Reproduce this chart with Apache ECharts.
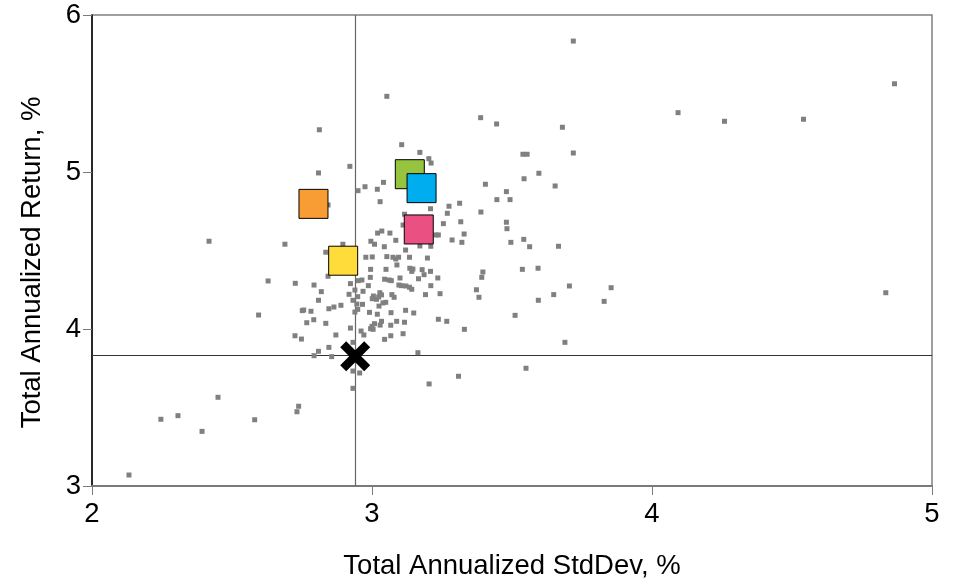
<!DOCTYPE html>
<html>
<head>
<meta charset="utf-8">
<title>Risk / Return</title>
<script src="https://cdn.jsdelivr.net/npm/echarts@6/dist/echarts.min.js"></script>
<style>
  html, body { margin: 0; padding: 0; background: #fff; }
  #chart { width: 959px; height: 581px; }
</style>
</head>
<body>
<div id="chart"></div>
<script>
// Axis ranges and tick labels
const xTicks = [2, 3, 4, 5];
const yTicks = [3, 4, 5, 6];
const xTitle = 'Total Annualized StdDev, %';
const yTitle = 'Total Annualized Return, %';

// Peer universe: [std dev %, return %]
const universe = [
  [3.053,5.482],[2.812,5.269],[2.809,4.994],[2.921,5.036],[3.106,5.174],[2.950,4.881],[2.975,4.906],
  [3.019,4.890],[3.041,4.934],[3.029,4.811],[2.843,4.790],[2.418,4.559],[2.689,4.540],[2.896,4.540],
  [3.719,5.834],[3.388,5.346],[3.445,5.306],[3.680,5.285],[3.171,5.125],[3.203,5.085],[3.211,5.057],
  [3.539,5.113],[3.554,5.113],[3.719,5.121],[3.596,4.992],[3.543,4.957],[3.405,4.922],[3.654,4.911],
  [3.480,4.875],[3.446,4.824],[3.493,4.824],[3.313,4.801],[3.275,4.782],[3.209,4.766],[3.269,4.737],
  [3.389,4.745],[3.317,4.683],[3.255,4.671],[3.480,4.680],[3.482,4.639],[3.329,4.605],[3.228,4.599],
  [3.237,4.599],[3.286,4.567],[3.321,4.552],[3.496,4.552],[3.542,4.571],[3.563,4.524],[3.666,4.527],
  [3.116,4.731],[3.111,4.662],[3.020,4.611],[3.035,4.624],[3.064,4.611],[3.085,4.565],[2.996,4.559],
  [3.009,4.540],[3.044,4.524],[3.120,4.503],[3.171,4.529],[3.210,4.527],
  [3.537,4.380],[3.593,4.387],[3.396,4.363],[3.392,4.329],[3.705,4.274],[3.854,4.263],[3.373,4.250],
  [3.382,4.202],[3.649,4.219],[3.594,4.183],[3.829,4.176],[3.511,4.087],[3.237,4.062],[3.267,4.049],
  [3.330,3.998],[3.689,3.915],[3.164,3.849],[3.550,3.750],[3.309,3.699],[3.204,3.650],[2.932,3.732],
  [2.956,3.720],[2.932,3.622],[2.856,3.824],
  [4.866,5.562],[4.093,5.378],[4.259,5.323],[4.541,5.336],[4.835,4.231],
  [2.629,4.306],[2.726,4.291],[2.595,4.089],[2.793,4.280],[2.819,4.238],[2.809,4.183],[2.751,4.117],
  [2.756,4.121],[2.782,4.113],[2.846,4.129],[2.864,4.140],[2.889,4.151],[2.767,4.040],[2.792,4.059],
  [2.835,4.036],[2.725,3.957],[2.748,3.936],[2.871,3.962],[2.809,3.858],[2.793,3.830],[2.846,3.883],
  [2.450,3.565],[2.246,3.425],[2.307,3.448],[2.393,3.348],[2.581,3.422],[2.738,3.508],[2.732,3.473],
  [2.132,3.070],[2.843,4.336],[2.835,4.489],
  [2.923,4.289],[2.918,4.221],[2.939,4.248],[2.932,4.183],[2.949,4.206],[2.939,4.108],[2.949,4.125],
  [2.923,4.006],[2.961,3.987],[2.971,3.962],[2.932,3.915],
  [2.978,4.457],[3.001,4.459],[3.053,4.461],[3.075,4.457],[3.085,4.446],[3.095,4.457],[3.134,4.457],
  [3.089,4.408],[2.995,4.380],[3.050,4.380],[3.135,4.387],[3.142,4.367],[2.964,4.312],[2.951,4.308],
  [2.994,4.329],[3.045,4.317],[3.061,4.312],[3.069,4.308],[3.100,4.325],[2.987,4.276],[3.096,4.280],
  [3.105,4.276],[3.121,4.274],[3.134,4.266],[3.142,4.253],[2.968,4.240],[3.028,4.231],[3.034,4.217],
  [3.005,4.210],[3.001,4.193],[3.016,4.189],[3.024,4.204],[3.071,4.219],[3.079,4.202],[2.966,4.157],
  [2.946,4.159],[3.025,4.146],[3.039,4.166],[3.049,4.170],[2.991,4.106],[3.019,4.094],[3.068,4.104],
  [3.120,4.119],[3.149,4.102],[3.034,4.049],[3.029,4.025],[3.009,4.034],[3.000,4.017],[2.995,4.002],
  [3.004,3.998],[3.067,4.024],[3.088,4.049],[3.116,4.043],[3.067,3.957],[3.045,3.934],[3.111,3.970],
  [3.198,4.452],[3.146,4.382],[3.179,4.378],[3.209,4.367],[3.186,4.346],[3.166,4.320],[3.235,4.325],
  [3.210,4.276],[3.191,4.219],[3.243,4.225]
];

// Benchmark position (crosshair origin)
const benchmark = [2.94, 3.826];

// Highlighted portfolios
const portfolioNames = ['Portfolio A', 'Portfolio B', 'Portfolio C', 'Portfolio D', 'Portfolio E'];
const portfolioStdDev = [2.791, 3.135, 3.177, 3.167, 2.897];
const portfolioReturn = [4.797, 4.986, 4.897, 4.634, 4.435];
const portfolioColors = ['#F89C34', '#96C43E', '#00AEEF', '#EA5182', '#FFDC3A'];

const FONT = '"Liberation Sans", Arial, sans-serif';
const FONT_SIZE = 27.5;
const crossPath = 'path://M0,2 L2,0 L5,3 L8,0 L10,2 L7,5 L10,8 L8,10 L5,7 L2,10 L0,8 L3,5 Z';

const chart = echarts.init(document.getElementById('chart'), null, { renderer: 'canvas' });

const portfolioSeries = portfolioNames.map((name, i) => ({
  name: name,
  type: 'scatter',
  symbol: 'rect',
  symbolSize: 29,
  z: 5 + i,
  itemStyle: { color: portfolioColors[i], borderColor: '#000', borderWidth: 1, opacity: 1 },
  data: [[portfolioStdDev[i], portfolioReturn[i]]]
}));

chart.setOption({
  animation: false,
  backgroundColor: '#fff',
  grid: {
    left: 92, right: 27, top: 15, bottom: 95,
    outerBoundsMode: 'none',
    containLabel: false,
    show: true, borderColor: '#808080', borderWidth: 1.5, backgroundColor: 'transparent'
  },
  xAxis: {
    type: 'value',
    min: xTicks[0], max: xTicks[xTicks.length - 1], interval: 1,
    name: xTitle, nameLocation: 'middle', nameGap: 66,
    nameTextStyle: { fontFamily: FONT, fontSize: FONT_SIZE, color: '#000' },
    axisLine: { show: true, onZero: false, lineStyle: { color: '#7a7a7a', width: 2 } },
    axisTick: { show: true, length: 9, lineStyle: { color: '#7a7a7a', width: 1 } },
    axisLabel: { fontFamily: FONT, fontSize: FONT_SIZE, color: '#000', margin: 14 },
    splitLine: { show: false }
  },
  yAxis: {
    type: 'value',
    min: yTicks[0], max: yTicks[yTicks.length - 1], interval: 1,
    name: yTitle, nameLocation: 'middle', nameGap: 46,
    nameTextStyle: { fontFamily: FONT, fontSize: FONT_SIZE, color: '#000', padding: [0, 24, 0, 0] },
    axisLine: { show: true, onZero: false, lineStyle: { color: '#000', width: 1.5 } },
    axisTick: { show: true, length: 9, lineStyle: { color: '#7a7a7a', width: 1 } },
    axisLabel: { fontFamily: FONT, fontSize: FONT_SIZE, color: '#000', margin: 11 },
    splitLine: { show: false }
  },
  series: [
    {
      name: 'Universe',
      type: 'scatter',
      symbol: 'rect',
      symbolSize: 5,
      z: 3,
      itemStyle: { color: '#808080', opacity: 1 },
      data: universe
    },
    ...portfolioSeries,
    {
      name: 'Benchmark',
      type: 'scatter',
      symbol: crossPath,
      symbolSize: [30, 30],
      z: 20,
      itemStyle: { color: '#000', opacity: 1 },
      data: [benchmark],
      markLine: {
        silent: true,
        symbol: 'none',
        z: 1,
        label: { show: false },
        emphasis: { disabled: true },
        data: [
          { xAxis: benchmark[0], lineStyle: { color: '#666', width: 1.2, type: 'solid' } },
          { yAxis: benchmark[1], lineStyle: { color: '#333', width: 1.2, type: 'solid' } }
        ]
      }
    }
  ]
});
</script>
</body>
</html>
